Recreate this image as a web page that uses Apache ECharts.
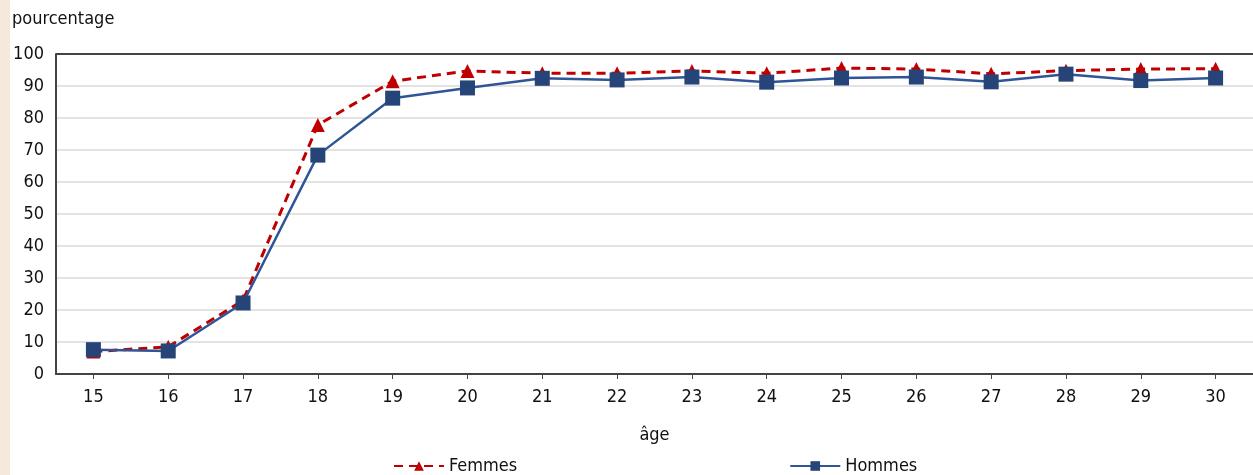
<!DOCTYPE html>
<html>
<head>
<meta charset="utf-8">
<script src="https://cdn.jsdelivr.net/npm/echarts@6/dist/echarts.min.js"></script>
<style>
  html, body { margin: 0; padding: 0; background: #fff; }
  #strip { position: absolute; left: 0; top: 0; width: 10px; height: 475px; background: #f5e9dc; }
  #chart { width: 1253px; height: 475px; }
</style>
</head>
<body>
<div id="strip"></div>
<div id="chart"></div>
<script>
// ages on the x axis
const ages = ['15','16','17','18','19','20','21','22','23','24','25','26','27','28','29','30'];
// share in percent
const femmes = [7, 8.5, 23, 77.8, 91.5, 94.7, 94, 94, 94.7, 94, 95.6, 95.3, 93.8, 94.8, 95.3, 95.4];
const hommes = [7.6, 7.2, 22.2, 68.4, 86.2, 89.4, 92.4, 91.9, 92.8, 91.2, 92.5, 92.8, 91.3, 93.7, 91.7, 92.5];

const font = '"Liberation Sans Narrow", "DejaVu Sans Condensed", sans-serif';

const chart = echarts.init(document.getElementById('chart'), null, { renderer: 'canvas' });

// split line colours: light grey, the 100 line dark like a frame
const splitColors = [];
for (let i = 0; i < 10; i++) splitColors.push('#e3e3e3');
splitColors.push('#444');

chart.setOption({
  animation: false,
  backgroundColor: 'transparent',
  textStyle: { fontFamily: font },
  grid: { left: 56, right: -1, top: 54, bottom: 101, containLabel: false },
  legend: {
    bottom: -5,
    left: 388,
    itemGap: 272,
    itemWidth: 50,
    itemHeight: 12,
    textStyle: { fontFamily: font, fontSize: 18, color: '#111' },
    data: ['Femmes', 'Hommes']
  },
  xAxis: {
    type: 'category',
    data: ages,
    boundaryGap: true,
    name: 'âge',
    nameLocation: 'middle',
    nameGap: 52,
    nameTextStyle: { fontFamily: font, fontSize: 18, color: '#111' },
    axisLine: { lineStyle: { color: '#444', width: 2 } },
    axisTick: { show: true, alignWithLabel: true, length: 5, lineStyle: { color: '#444' } },
    axisLabel: { fontFamily: font, fontSize: 18, color: '#111', margin: 14 }
  },
  yAxis: {
    type: 'value',
    min: 0,
    max: 100,
    interval: 10,
    name: 'pourcentage',
    nameLocation: 'end',
    nameGap: 26,
    nameTextStyle: { fontFamily: font, fontSize: 18, color: '#111', align: 'left', padding: [0, 0, 0, -44] },
    axisLine: { show: true, lineStyle: { color: '#444', width: 2 } },
    axisTick: { show: false },
    axisLabel: { fontFamily: font, fontSize: 18, color: '#111', margin: 12 },
    splitLine: { show: true, lineStyle: { color: splitColors, width: 2 } }
  },
  series: [
    {
      name: 'Femmes',
      type: 'line',
      data: femmes,
      symbol: 'triangle',
      symbolSize: 14,
      z: 2,
      lineStyle: { color: '#c00000', width: 3, type: [9, 6] },
      itemStyle: { color: '#c00000' }
    },
    {
      name: 'Hommes',
      type: 'line',
      data: hommes,
      symbol: 'rect',
      symbolSize: 15,
      z: 3,
      lineStyle: { color: '#2f5597', width: 2.5 },
      itemStyle: { color: '#264478' }
    }
  ]
});
</script>
</body>
</html>
